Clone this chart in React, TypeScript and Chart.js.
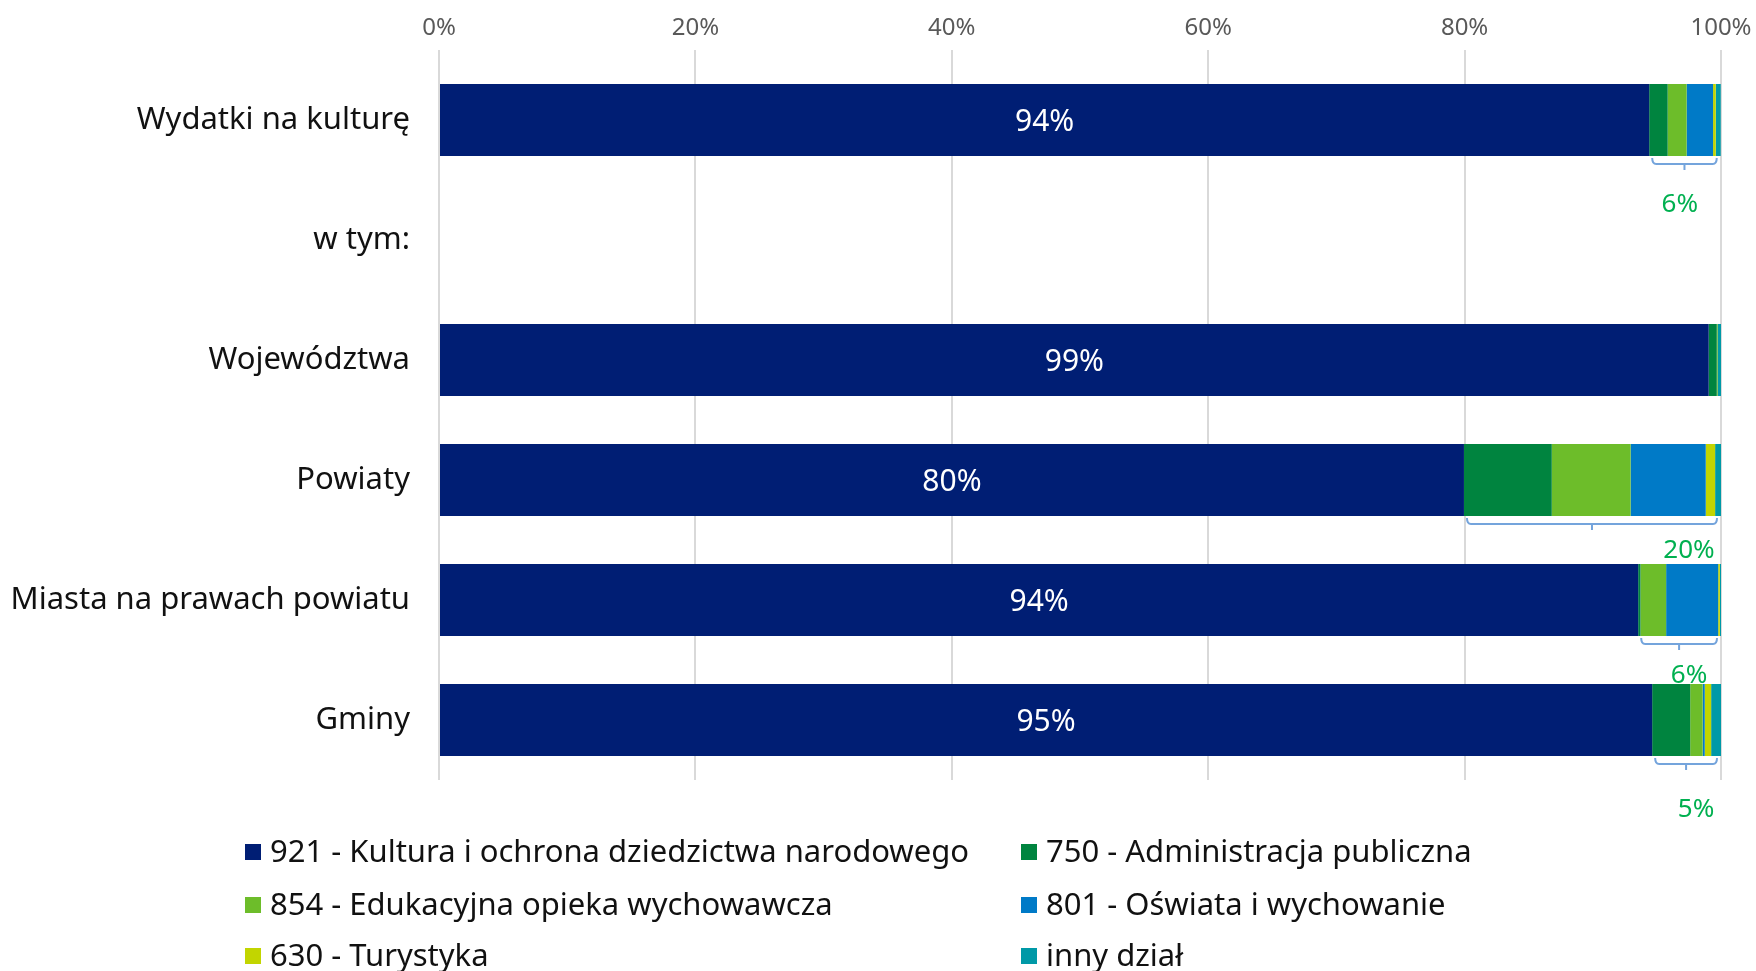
import React, { useEffect, useRef } from "react";
import { Chart, registerables } from "chart.js";

Chart.register(...registerables);

const categories = [
  "Wydatki na kulturę",
  "w tym:",
  "Województwa",
  "Powiaty",
  "Miasta na prawach powiatu",
  "Gminy",
];

const seriesLabels = [
  "921 - Kultura i ochrona dziedzictwa narodowego",
  "750 - Administracja publiczna",
  "854 - Edukacyjna opieka wychowawcza",
  "801 - Oświata i wychowanie",
  "630 - Turystyka",
  "inny dział",
];

const d921 = [94.4, null, 99.04, 79.95, 93.54, 94.63];
const d750 = [1.44, null, 0.63, 6.85, 0.18, 2.97];
const d854 = [1.48, null, 0.07, 6.15, 2.0, 0.97];
const d801 = [2.06, null, 0, 5.86, 4.06, 0.16];
const d630 = [0.21, null, 0, 0.73, 0.13, 0.5];
const dInny = [0.39, null, 0.26, 0.47, 0.09, 0.78];

const xTicks = [0, 20, 40, 60, 80, 100];

// categories that get a brace with the "rest" share
const braceCategories = [0, 3, 4, 5];
// label offsets (px) relative to the brace right end / bar bottom
const braceLabelOffsets = [
  { dx: -41, dy: 49 },
  { dx: -32, dy: 35 },
  { dx: -32, dy: 40 },
  { dx: -25, dy: 54 },
];

const colors = ["#001e74", "#00843f", "#6dbd2a", "#007ac7", "#c2d500", "#0099a7"];
const FONT = "'Noto Sans', sans-serif";

const allSeries = [d921, d750, d854, d801, d630, dInny];

const overlayPlugin = {
  id: "overlay",
  afterDatasetsDraw(chart: any) {
    const ctx = chart.ctx;
    const xs = chart.scales.x;
    const meta0 = chart.getDatasetMeta(0);
    ctx.save();
    // navy labels
    ctx.fillStyle = "#ffffff";
    ctx.font = `30px ${FONT}`;
    ctx.textAlign = "center";
    ctx.textBaseline = "middle";
    meta0.data.forEach((el: any, i: number) => {
      const v = d921[i];
      if (v == null) return;
      ctx.fillText(Math.round(v) + "%", (el.x + el.base) / 2, el.y + 2);
    });
    // braces
    braceCategories.forEach((ci, k) => {
      const el = meta0.data[ci];
      const navy = d921[ci] as number;
      let total = 0;
      allSeries.forEach((s) => (total += (s[ci] as number) || 0));
      total = Math.min(total, 100);
      const x0 = xs.getPixelForValue(navy) + 3;
      const x1 = xs.getPixelForValue(total) - 4;
      const bottom = el.y + el.height / 2;
      const yTop = bottom + 2;
      const yLine = bottom + 8;
      const yTip = bottom + 14;
      const xm = (x0 + x1) / 2;
      ctx.strokeStyle = "#74a4dc";
      ctx.lineWidth = 2;
      ctx.beginPath();
      ctx.moveTo(x0, yTop);
      ctx.quadraticCurveTo(x0, yLine, x0 + 4, yLine);
      ctx.lineTo(x1 - 4, yLine);
      ctx.quadraticCurveTo(x1, yLine, x1, yTop);
      ctx.moveTo(xm, yLine);
      ctx.lineTo(xm, yTip);
      ctx.stroke();
      const off = braceLabelOffsets[k];
      ctx.fillStyle = "#00b050";
      ctx.font = `26px ${FONT}`;
      ctx.textAlign = "center";
      ctx.textBaseline = "middle";
      ctx.fillText(Math.round(100 - navy) + "%", xs.getPixelForValue(total) + off.dx, bottom + off.dy);
    });
    ctx.restore();
  },
  afterDraw(chart: any) {
    const ctx = chart.ctx;
    const colX = [245, 1021];
    const rowY = [852, 905, 956];
    ctx.save();
    ctx.font = `31px ${FONT}`;
    ctx.textAlign = "left";
    ctx.textBaseline = "middle";
    chart.data.datasets.forEach((ds: any, i: number) => {
      const x = colX[i % 2];
      const y = rowY[Math.floor(i / 2)];
      ctx.fillStyle = ds.backgroundColor;
      ctx.fillRect(x, y - 8, 16, 16);
      ctx.fillStyle = "#111111";
      ctx.fillText(ds.label, x + 25, y + 1);
    });
    ctx.restore();
  },
};

export default function App() {
  const canvasRef = useRef<HTMLCanvasElement | null>(null);

  useEffect(() => {
    if (!canvasRef.current) return;
    const chart = new Chart(canvasRef.current, {
      type: "bar",
      data: {
        labels: categories,
        datasets: allSeries.map((s, i) => ({
          label: seriesLabels[i],
          data: s,
          backgroundColor: colors[i],
          borderWidth: 0,
          barPercentage: 0.6,
          categoryPercentage: 1,
        })),
      },
      options: {
        indexAxis: "y",
        animation: false,
        responsive: true,
        maintainAspectRatio: false,
        layout: { padding: { top: 0, left: 0, right: 35, bottom: 191 } },
        plugins: {
          legend: { display: false },
          tooltip: { enabled: false },
        },
        scales: {
          x: {
            position: "top",
            stacked: true,
            min: 0,
            max: 100,
            afterBuildTicks: (scale: any) => {
              scale.ticks = xTicks.map((v) => ({ value: v }));
            },
            afterFit: (scale: any) => {
              scale.height = 60;
              scale.paddingLeft = 0;
              scale.paddingRight = 0;
            },
            grid: {
              color: "#d9d9d9",
              lineWidth: 2,
              tickLength: 10,
              drawTicks: true,
            },
            border: { display: false },
            ticks: {
              color: "#595959",
              padding: 7,
              font: { family: FONT, size: 24 },
              callback: (v: any) => v + "%",
            },
          },
          y: {
            stacked: true,
            afterFit: (scale: any) => {
              scale.width = 439;
            },
            grid: { display: false },
            border: { display: false },
            ticks: {
              color: "#111111",
              padding: 21,
              font: { family: FONT, size: 31 },
            },
          },
        },
      },
      plugins: [overlayPlugin],
    });
    return () => chart.destroy();
  }, []);

  return (
    <div style={{ position: "absolute", left: 0, top: 0, width: 1756, height: 971, background: "#fff" }}>
      <canvas ref={canvasRef} />
    </div>
  );
}
